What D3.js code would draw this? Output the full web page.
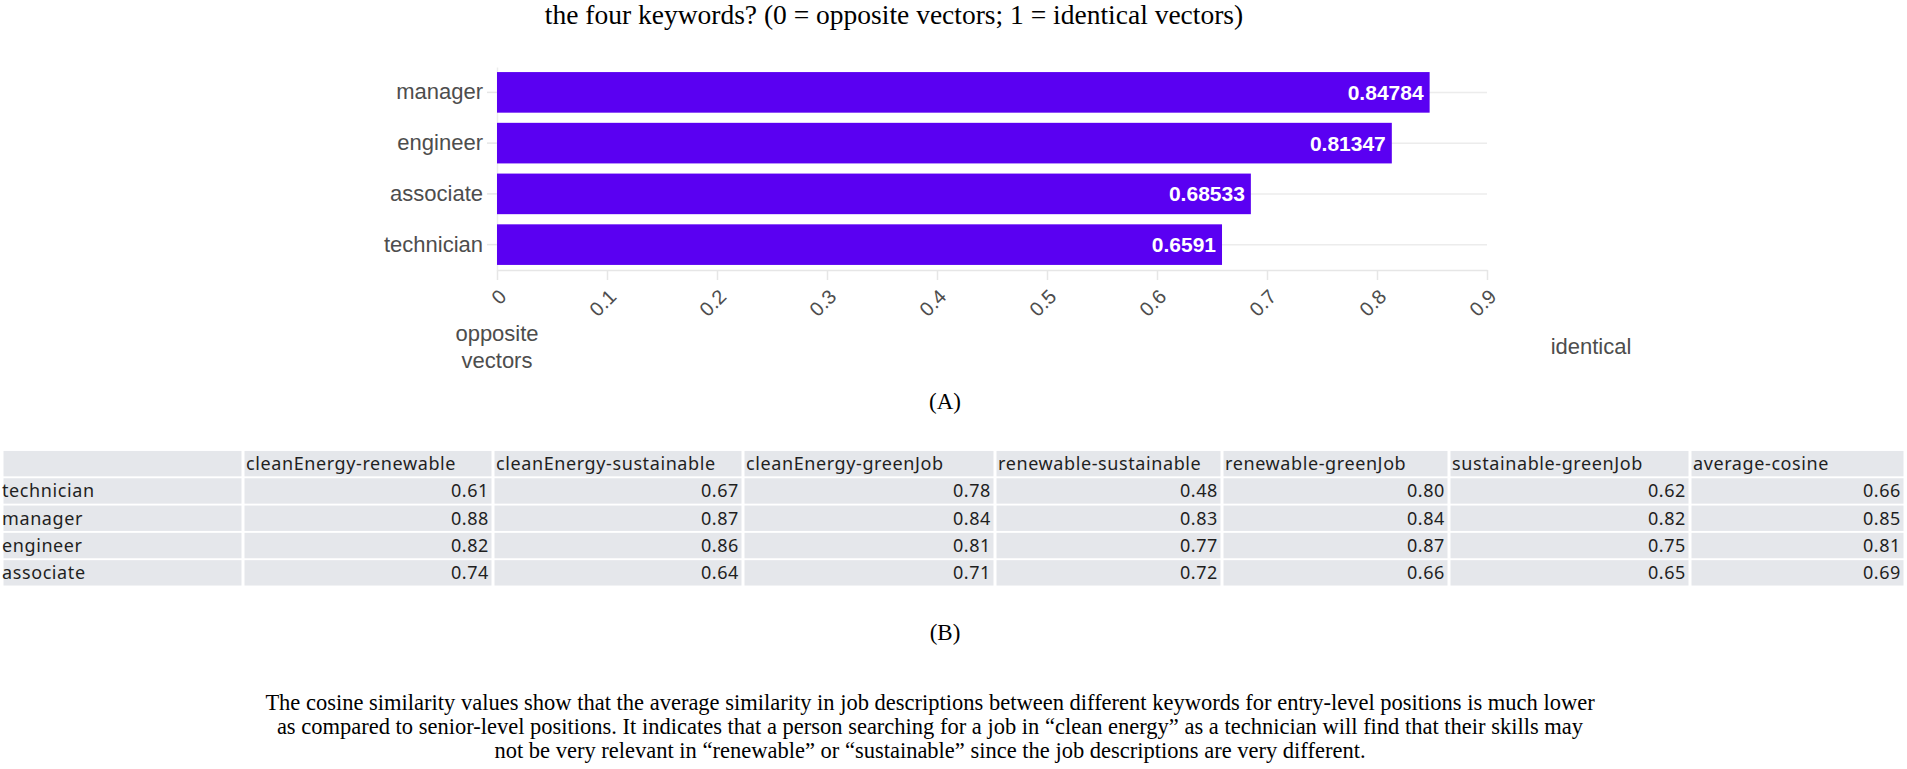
<!DOCTYPE html>
<html>
<head>
<meta charset="utf-8">
<script src="https://cdn.jsdelivr.net/npm/d3@7"></script>
<style>
  body { margin: 0; background: #fff; }
  svg { display: block; }
</style>
</head>
<body>
<script>
// bar chart data (A)
const barCategories = ["manager", "engineer", "associate", "technician"];
const barValues = [0.84784, 0.81347, 0.68533, 0.6591];
const xTicks = [0, 0.1, 0.2, 0.3, 0.4, 0.5, 0.6, 0.7, 0.8, 0.9];

// table data (B)
const tableColumns = ["cleanEnergy-renewable", "cleanEnergy-sustainable", "cleanEnergy-greenJob",
  "renewable-sustainable", "renewable-greenJob", "sustainable-greenJob", "average-cosine"];
const tableRows = ["technician", "manager", "engineer", "associate"];
const technicianRow = [0.61, 0.67, 0.78, 0.48, 0.80, 0.62, 0.66];
const managerRow = [0.88, 0.87, 0.84, 0.83, 0.84, 0.82, 0.85];
const engineerRow = [0.82, 0.86, 0.81, 0.77, 0.87, 0.75, 0.81];
const associateRow = [0.74, 0.64, 0.71, 0.72, 0.66, 0.65, 0.69];

const titleText = "the four keywords? (0 = opposite vectors; 1 = identical vectors)";
const captionLines = [
  "The cosine similarity values show that the average similarity in job descriptions between different keywords for entry-level positions is much lower",
  "as compared to senior-level positions. It indicates that a person searching for a job in \u201cclean energy\u201d as a technician will find that their skills may",
  "not be very relevant in \u201crenewable\u201d or \u201csustainable\u201d since the job descriptions are very different."
];

const width = 1907, height = 769;
const serif = "'Liberation Serif', 'Times New Roman', serif";
const sans = "'Liberation Sans', Arial, sans-serif";
const labelColor = "#4d4d4d";

const svg = d3.select("body").append("svg")
  .attr("width", width)
  .attr("height", height);

svg.append("text")
  .attr("x", 894).attr("y", 24)
  .attr("text-anchor", "middle")
  .attr("font-family", serif).attr("font-size", 27.5)
  .text(titleText);

// ---- bar chart
const x = d3.scaleLinear().domain([0, 0.9]).range([497, 1487]);
const y = d3.scaleBand().domain(barCategories).range([67, 270])
  .paddingInner(0.2).paddingOuter(0.1);

const chart = svg.append("g");

chart.append("g")
  .selectAll("line")
  .data(barCategories)
  .join("line")
  .attr("x1", x(0)).attr("x2", x(0.9))
  .attr("y1", d => y(d) + y.bandwidth() / 2)
  .attr("y2", d => y(d) + y.bandwidth() / 2)
  .attr("stroke", "#ececec").attr("stroke-width", 1.5);

const xAxis = chart.append("g")
  .attr("transform", `translate(0,${270})`)
  .call(d3.axisBottom(x).tickValues(xTicks).tickFormat(d => String(d))
    .tickSize(10).tickSizeOuter(0));
xAxis.select(".domain").attr("stroke", "#e6e6e6").attr("stroke-width", 1.5);
xAxis.selectAll(".tick line").attr("stroke", "#e6e6e6").attr("stroke-width", 1.5);
xAxis.selectAll(".tick text")
  .attr("x", null).attr("y", null).attr("dy", null)
  .attr("transform", "translate(10,28) rotate(-45)")
  .attr("text-anchor", "end")
  .attr("font-family", sans).attr("font-size", 20)
  .attr("fill", labelColor);

const yAxis = chart.append("g")
  .attr("transform", `translate(${x(0)},0)`)
  .call(d3.axisLeft(y).tickSize(10).tickPadding(4).tickSizeOuter(0));
yAxis.select(".domain").attr("stroke", "#ececec").attr("stroke-width", 1.5);
yAxis.selectAll(".tick line").attr("stroke", "#e6e6e6").attr("stroke-width", 1.5);
yAxis.selectAll(".tick text")
  .attr("font-family", sans).attr("font-size", 22)
  .attr("fill", labelColor);

const bars = barCategories.map((c, i) => ({ cat: c, value: barValues[i] }));

chart.append("g")
  .selectAll("rect")
  .data(bars)
  .join("rect")
  .attr("x", x(0))
  .attr("y", d => y(d.cat))
  .attr("width", d => x(d.value) - x(0))
  .attr("height", y.bandwidth())
  .attr("fill", "#5a00f2");

chart.append("g")
  .selectAll("text")
  .data(bars)
  .join("text")
  .attr("x", d => x(d.value) - 6)
  .attr("y", d => y(d.cat) + y.bandwidth() / 2)
  .attr("dy", "0.36em")
  .attr("text-anchor", "end")
  .attr("font-family", sans).attr("font-weight", "bold").attr("font-size", 21)
  .attr("fill", "#fff")
  .text(d => d.value);

const opp = chart.append("text")
  .attr("text-anchor", "middle")
  .attr("font-family", sans).attr("font-size", 22)
  .attr("fill", labelColor);
opp.append("tspan").attr("x", x(0)).attr("y", 341).text("opposite");
opp.append("tspan").attr("x", x(0)).attr("y", 368).text("vectors");

chart.append("text")
  .attr("x", x(1) - 6).attr("y", 354)
  .attr("text-anchor", "middle")
  .attr("font-family", sans).attr("font-size", 22)
  .attr("fill", labelColor)
  .text("identical");

svg.append("text")
  .attr("x", 945).attr("y", 409)
  .attr("text-anchor", "middle")
  .attr("font-family", serif).attr("font-size", 23)
  .text("(A)");

// ---- table
const colEdges = [2, 243, 493, 743, 995, 1222, 1449, 1690, 1905];
const rowValues = [technicianRow, managerRow, engineerRow, associateRow];
const rowKeys = ["header", ...tableRows];
const ry = d3.scaleBand().domain(rowKeys).range([450, 450 + 27.3 * 5])
  .paddingInner(0.07).paddingOuter(0.035);

const cells = [];
rowKeys.forEach((r, ri) => {
  for (let ci = 0; ci < colEdges.length - 1; ci++) {
    let text, align;
    if (ri === 0) { text = ci === 0 ? "" : tableColumns[ci - 1]; align = "start"; }
    else if (ci === 0) { text = tableRows[ri - 1]; align = "start"; }
    else { text = rowValues[ri - 1][ci - 1].toFixed(2); align = "end"; }
    cells.push({ row: r, col: ci, text, align });
  }
});

const table = svg.append("g");
table.selectAll("rect")
  .data(cells)
  .join("rect")
  .attr("x", d => colEdges[d.col] + 1.5)
  .attr("y", d => ry(d.row))
  .attr("width", d => colEdges[d.col + 1] - colEdges[d.col] - 3)
  .attr("height", ry.bandwidth())
  .attr("fill", "#e5e7eb");

table.selectAll("text")
  .data(cells)
  .join("text")
  .attr("x", d => d.align === "end" ? colEdges[d.col + 1] - 4 : colEdges[d.col] + (d.col === 0 ? 0 : 3))
  .attr("y", d => ry(d.row) + ry.bandwidth() / 2)
  .attr("dy", "0.36em")
  .attr("text-anchor", d => d.align)
  .attr("font-family", "'Noto Sans', sans-serif").attr("font-size", 18)
  .attr("letter-spacing", 0.6)
  .attr("fill", "#1f1f1f")
  .text(d => d.text);

svg.append("text")
  .attr("x", 945).attr("y", 640)
  .attr("text-anchor", "middle")
  .attr("font-family", serif).attr("font-size", 23)
  .text("(B)");

svg.append("g")
  .selectAll("text")
  .data(captionLines)
  .join("text")
  .attr("x", 930)
  .attr("y", (d, i) => 710 + i * 24)
  .attr("text-anchor", "middle")
  .attr("font-family", serif).attr("font-size", 22.5)
  .text(d => d);
</script>
</body>
</html>
